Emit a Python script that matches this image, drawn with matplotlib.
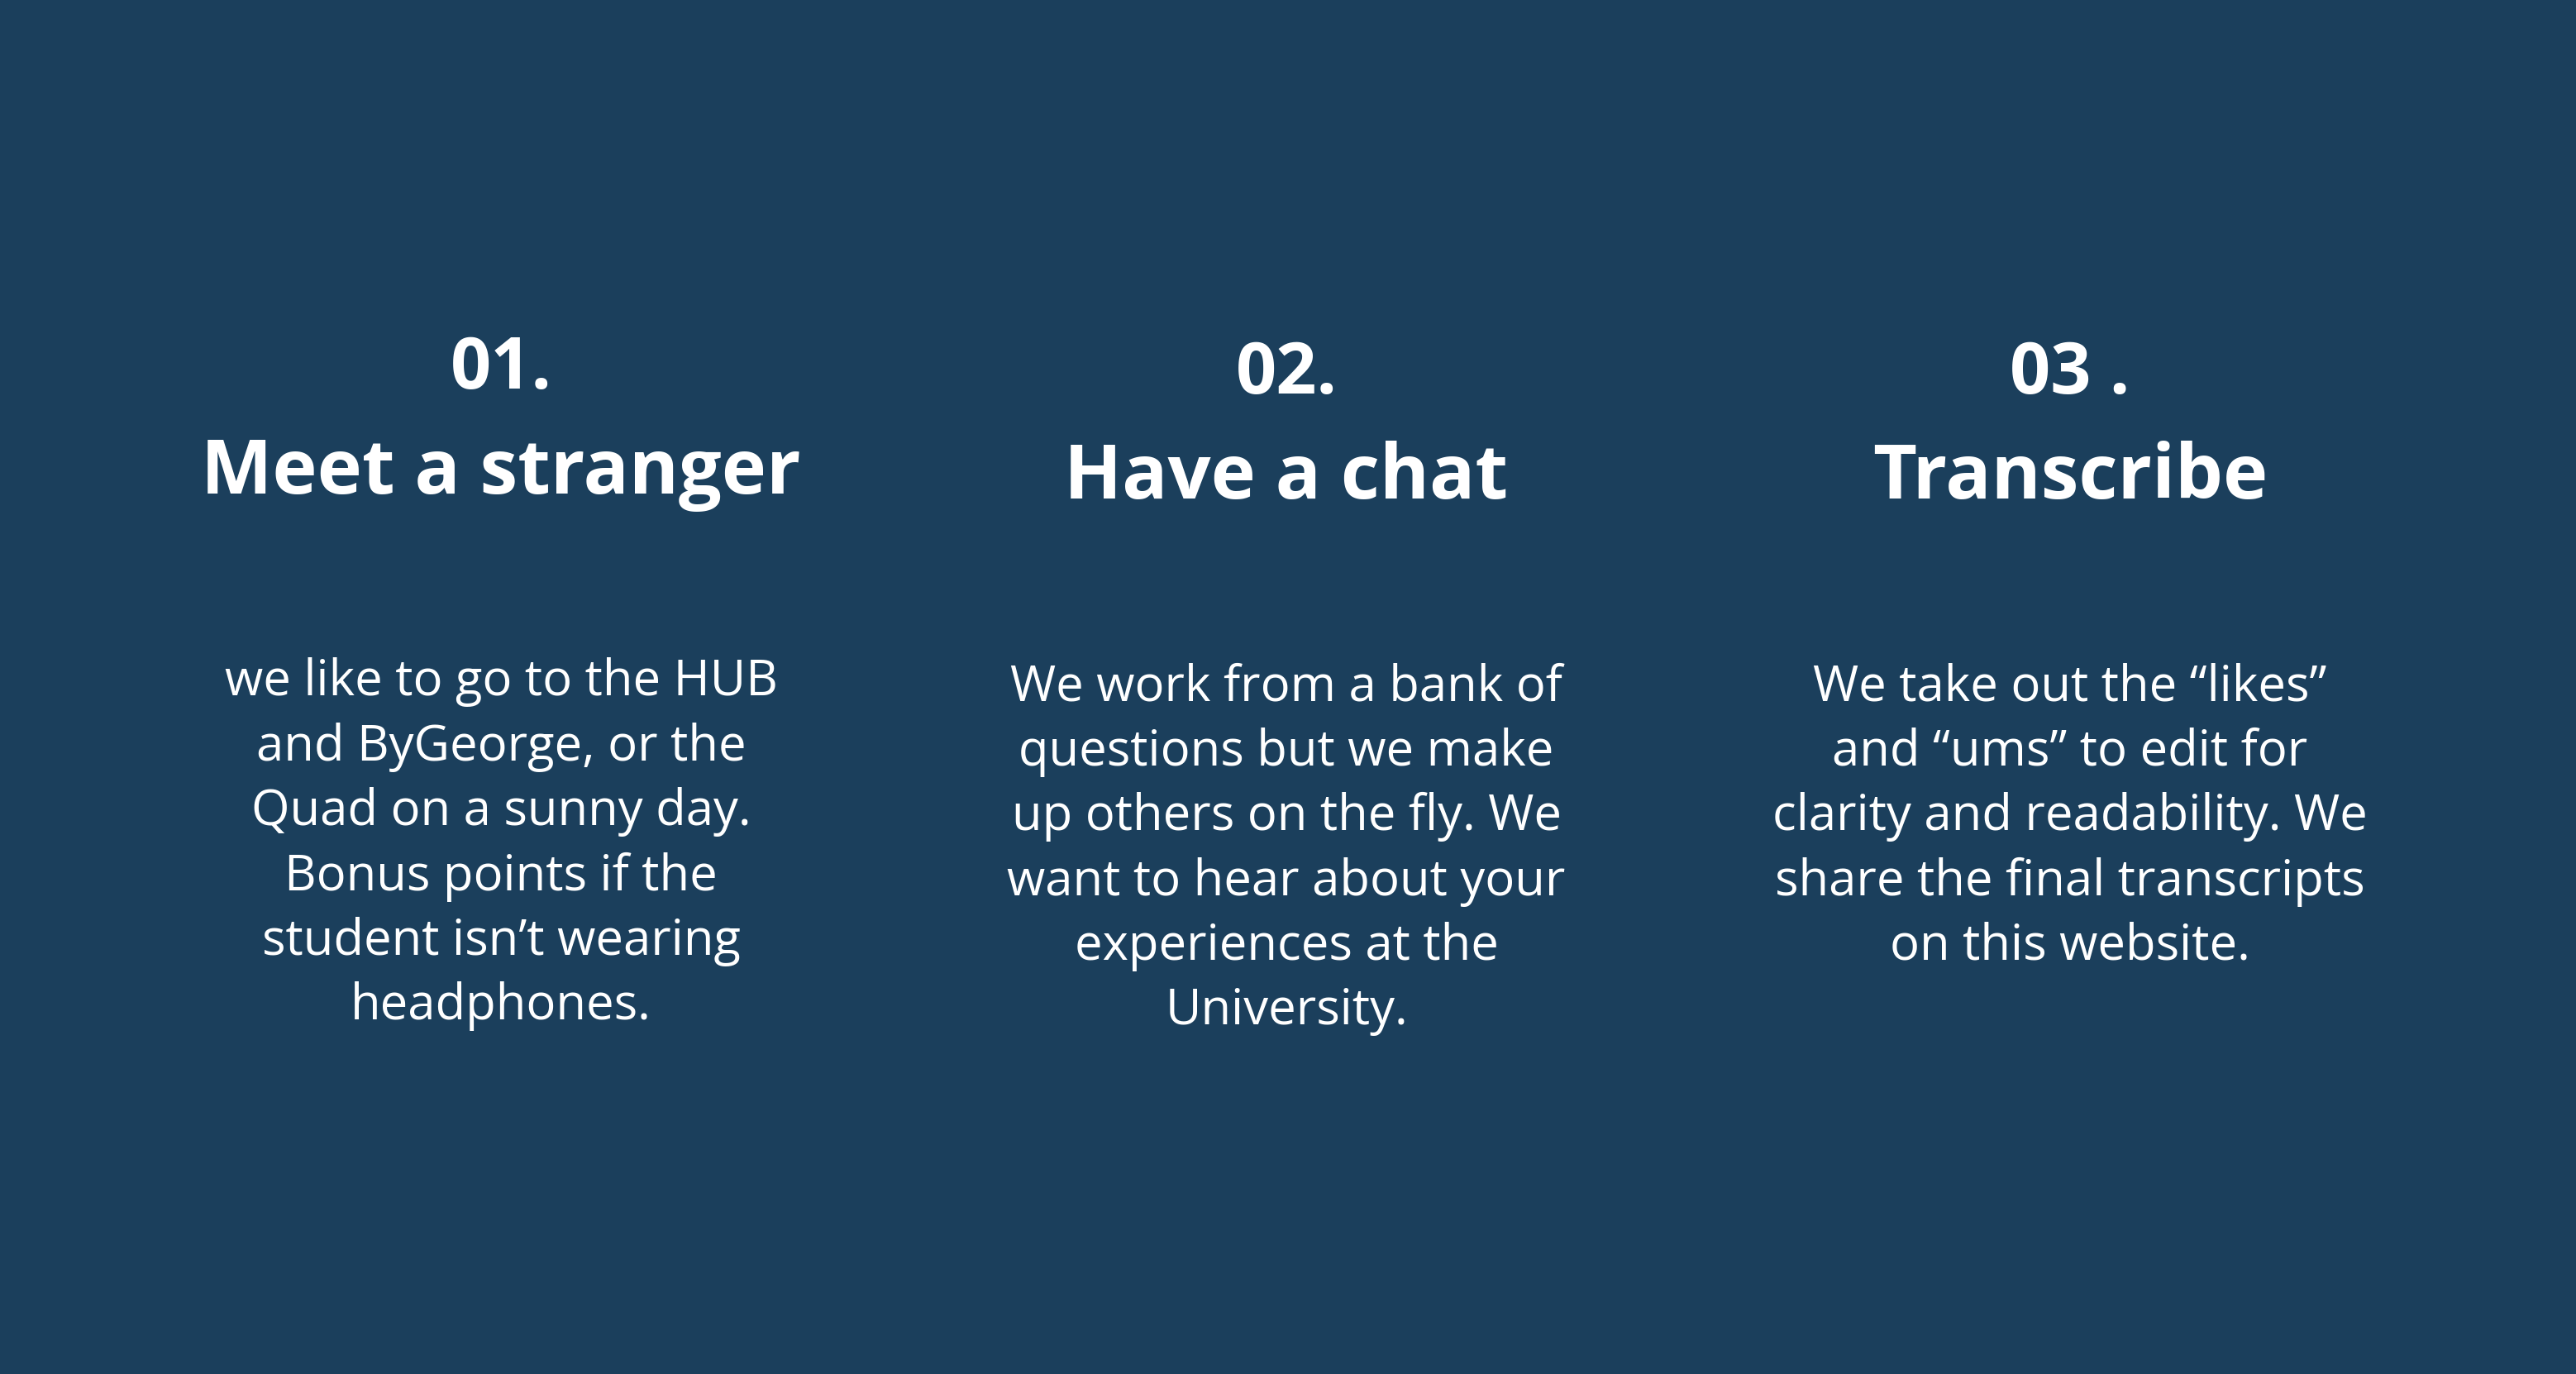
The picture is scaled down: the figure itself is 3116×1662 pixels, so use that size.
import matplotlib
matplotlib.use("Agg")
import matplotlib.pyplot as plt

numbers = ["01.", "02.", "03 ."]
titles = ["Meet a stranger", "Have a chat", "Transcribe"]
bodies = [
    "we like to go to the HUB\nand ByGeorge, or the\nQuad on a sunny day.\nBonus points if the\nstudent isn’t wearing\nheadphones.",
    "We work from a bank of\nquestions but we make\nup others on the fly. We\nwant to hear about your\nexperiences at the\nUniversity.",
    "We take out the “likes”\nand “ums” to edit for\nclarity and readability. We\nshare the final transcripts\non this website.",
]
xs = [305, 783, 1260]
num_y = [225, 228, 228]
title_y = [288, 291, 291]
body_y = [420, 423, 423]

W, H = 1568, 836
fig = plt.figure(figsize=(31.16, 16.62), dpi=100)
fig.patch.set_facecolor("#1B3F5C")
fam = ["Open Sans", "DejaVu Sans"]
for i in range(3):
    fig.text(xs[i]/W, 1-num_y[i]/H, numbers[i], ha="center", va="center",
             color="white", fontsize=62, fontweight="bold", family=fam)
    fig.text(xs[i]/W, 1-title_y[i]/H, titles[i], ha="center", va="center",
             color="white", fontsize=66, fontweight="bold", family=fam)
    fig.text(xs[i]/W, 1-(body_y[i]-20)/H, bodies[i], ha="center", va="top",
             color="white", fontsize=43, family=fam, linespacing=1.4)
fig.savefig("out.png", facecolor=fig.get_facecolor())
